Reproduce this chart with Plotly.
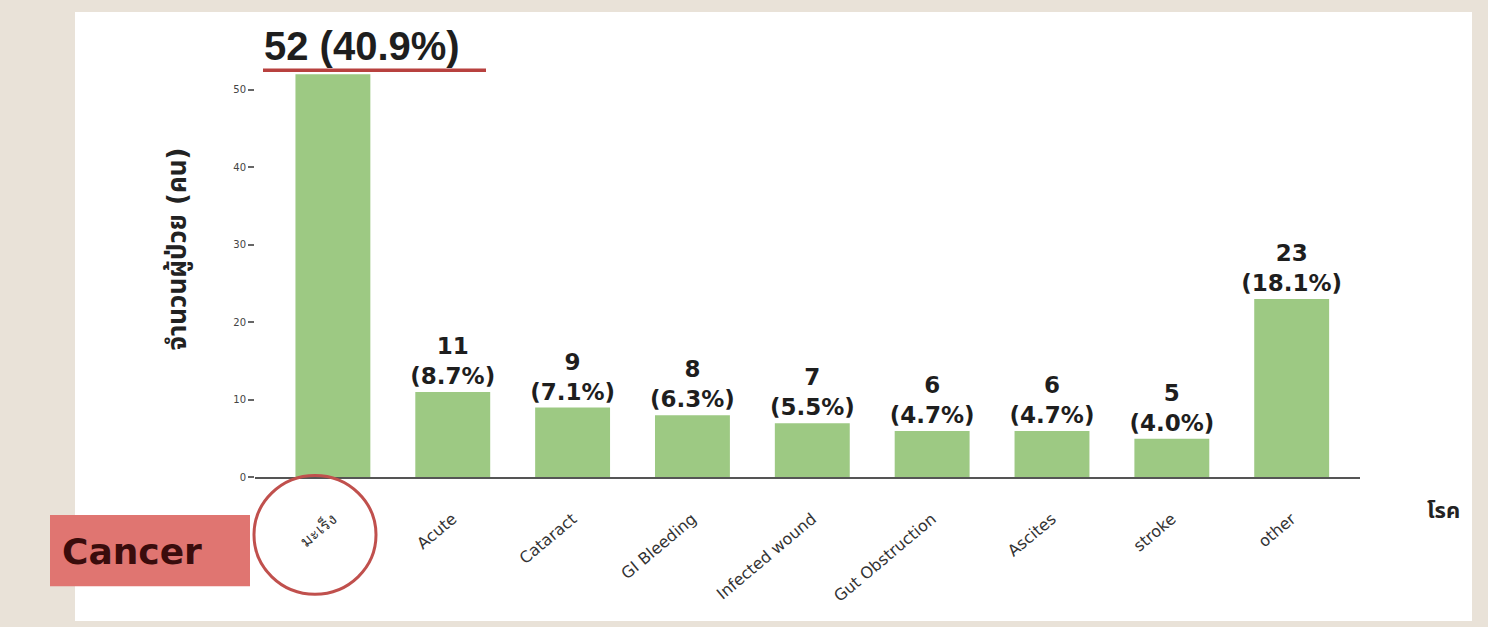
import plotly.graph_objects as go

categories = ["มะเร็ง", "Acute", "Cataract", "GI Bleeding", "Infected wound",
              "Gut Obstruction", "Ascites", "stroke", "other"]
patients = [52, 11, 9, 8, 7, 6, 6, 5, 23]
percents = ["40.9%", "8.7%", "7.1%", "6.3%", "5.5%", "4.7%", "4.7%", "4.0%", "18.1%"]
y_ticks = [0, 10, 20, 30, 40, 50]

W, H = 1488, 627
def px(x):
    return x / W
def py(y):
    return 1 - y / H

bar_text = [""] + [f"<b>{v}<br>({p})</b>" for v, p in zip(patients[1:], percents[1:])]

fig = go.Figure()
fig.add_trace(go.Bar(
    x=categories, y=patients,
    marker=dict(color="#9dc983", line=dict(width=0)),
    text=bar_text, textposition="outside", cliponaxis=False,
    constraintext="none",
    textfont=dict(size=23, color="#1e1e1e", family="DejaVu Sans, sans-serif"),
    hoverinfo="skip",
))

top_y = 40
zero_y = 482
y_max = patients[0] * (zero_y - top_y) / (zero_y - 75)

fig.update_layout(
    width=W, height=H,
    margin=dict(l=0, r=0, t=0, b=0),
    paper_bgcolor="#e9e2d8",
    plot_bgcolor="rgba(0,0,0,0)",
    showlegend=False,
    bargap=0.375,
    font=dict(family="DejaVu Sans, Noto Sans Thai, sans-serif", color="#333"),
    xaxis=dict(
        domain=[px(255), px(1360)],
        range=[-0.65, 8.57],
        showline=True, linecolor="#555", linewidth=2,
        showgrid=False, zeroline=False,
        tickangle=-40, ticks="", ticklabelstandoff=24,
        tickfont=dict(size=16, color="#333", family="DejaVu Sans, sans-serif"),
    ),
    yaxis=dict(
        domain=[py(zero_y), py(top_y)],
        range=[0, y_max],
        tickvals=y_ticks,
        showgrid=False, zeroline=False, showline=False,
        ticks="outside", ticklen=6, tickcolor="#666", tickwidth=1.5,
        tickfont=dict(size=10, color="#444"),
    ),
)

shapes = [
    # white slide panel
    dict(type="rect", xref="paper", yref="paper", x0=px(75), x1=px(1472), y0=0, y1=py(12),
         fillcolor="white", line=dict(width=0), layer="below"),
    # red underline under top label
    dict(type="line", xref="paper", yref="paper", x0=px(263), x1=px(486), y0=py(71), y1=py(71),
         line=dict(color="#b8413f", width=3.5)),
    # Cancer box
    dict(type="rect", xref="paper", yref="paper", x0=px(50), x1=px(250), y0=py(592), y1=py(520),
         fillcolor="#e07571", line=dict(width=0)),
    # circle round first label
    dict(type="circle", xref="paper", yref="paper", x0=px(254), x1=px(376), y0=py(600), y1=py(480),
         line=dict(color="#c0504d", width=3)),
]
fig.update_layout(shapes=shapes)

annotations = [
    dict(xref="paper", yref="paper", x=px(262), y=py(46), xanchor="left", yanchor="middle",
         text=f"<b>{patients[0]} ({percents[0]})</b>", showarrow=False,
         font=dict(size=40, color="#1e1e1e", family="Liberation Sans, sans-serif")),
    dict(xref="paper", yref="paper", x=px(60), y=py(557), xanchor="left", yanchor="middle",
         text="<b>Cancer</b>", showarrow=False,
         font=dict(size=36, color="#3a0c0c", family="DejaVu Sans, sans-serif")),
    dict(xref="paper", yref="paper", x=px(178), y=py(252), xanchor="center", yanchor="middle",
         text="<b>จำนวนผู้ป่วย (คน)</b>", textangle=-90, showarrow=False,
         font=dict(size=26, color="#222")),
    dict(xref="paper", yref="paper", x=px(1443), y=py(515), xanchor="center", yanchor="middle",
         text="<b>โรค</b>", showarrow=False,
         font=dict(size=22, color="#222")),
]
fig.update_layout(annotations=annotations)

fig.write_html("out.html")
